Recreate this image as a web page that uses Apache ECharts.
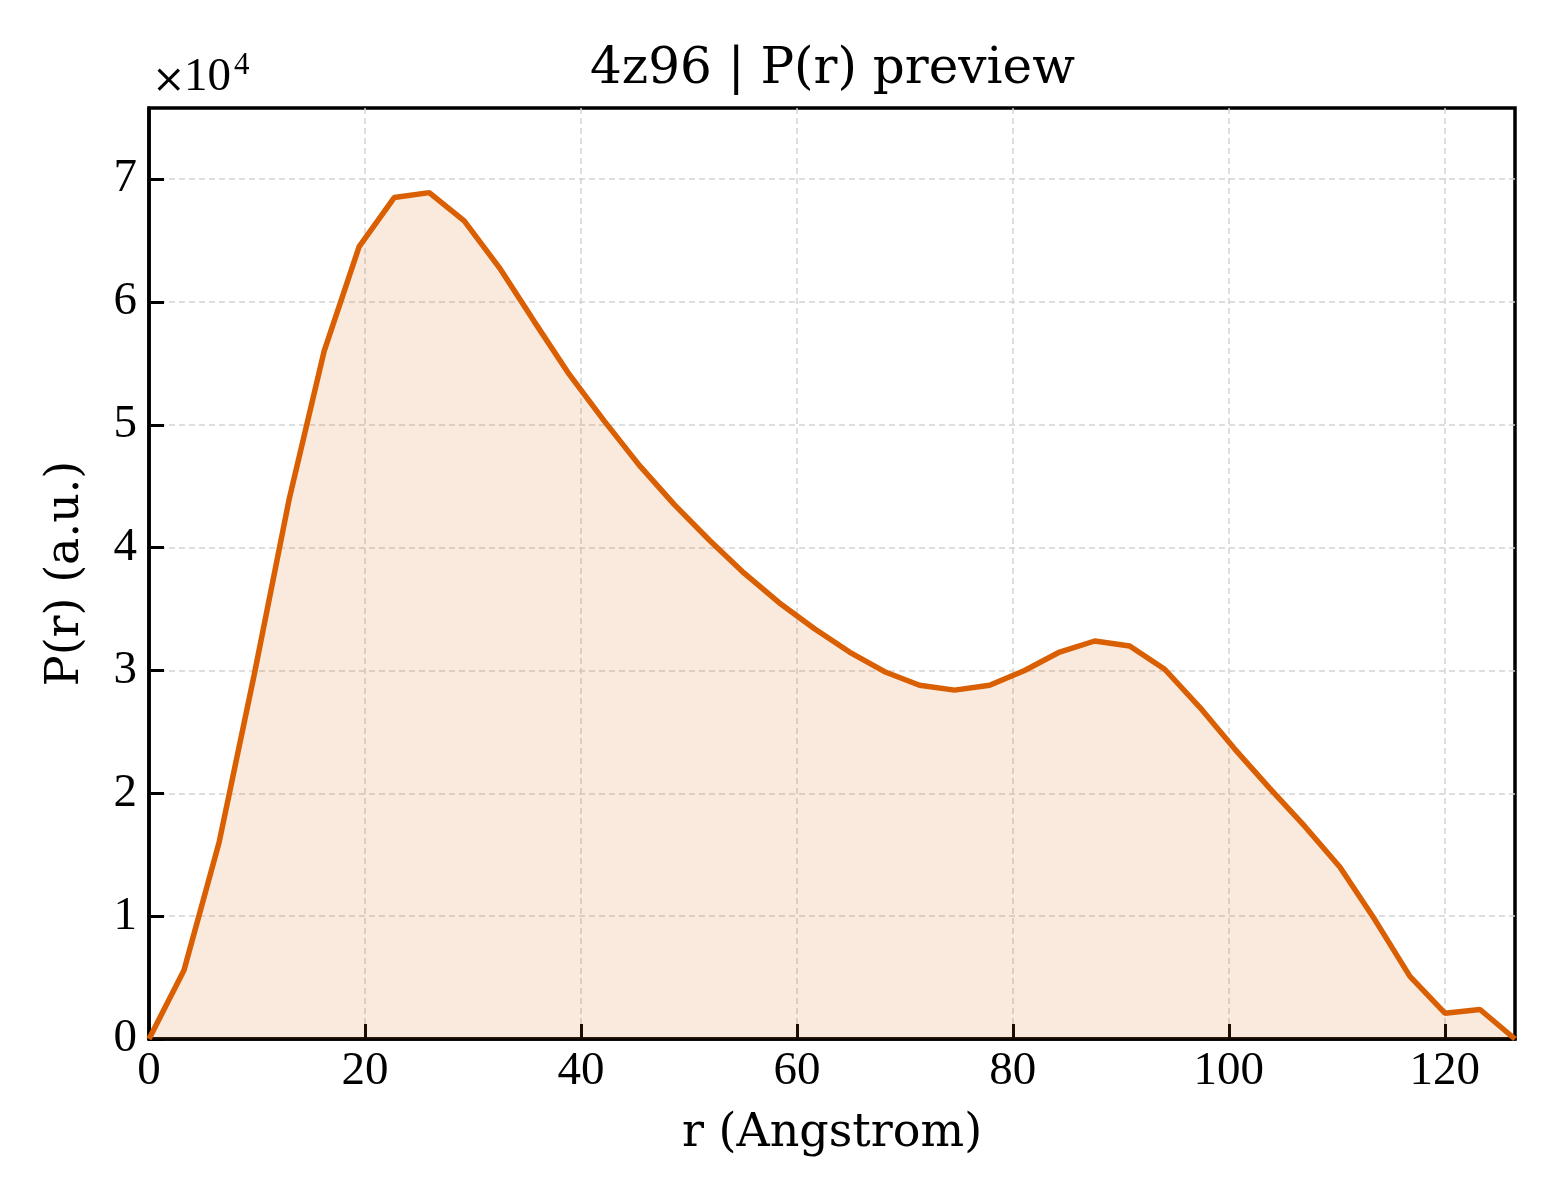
<!DOCTYPE html>
<html>
<head>
<meta charset="utf-8">
<title>4z96 | P(r) preview</title>
<script src="https://cdn.jsdelivr.net/npm/echarts@6/dist/echarts.min.js"></script>
<style>
  html, body { margin: 0; padding: 0; background: #fff; }
  #chart { width: 1560px; height: 1200px; }
</style>
</head>
<body>
<div id="chart"></div>
<script>
"use strict"

// r in Angstrom
const rValues = [
  0, 3.24, 6.49, 9.73, 12.97, 16.22, 19.46, 22.71, 25.95, 29.19,
  32.44, 35.68, 38.92, 42.17, 45.41, 48.65, 51.9, 55.14, 58.38, 61.63,
  64.87, 68.12, 71.36, 74.6, 77.85, 81.09, 84.33, 87.58, 90.82, 94.06,
  97.31, 100.55, 103.79, 107.04, 110.28, 113.53, 116.77, 120.01, 123.26, 126.5,
]

// P(r), arbitrary units
const prValues = [
  0, 5600, 16000, 29600, 43900, 56000, 64500, 68500, 68900, 66600,
  62800, 58400, 54100, 50300, 46700, 43500, 40600, 37900, 35500, 33400,
  31500, 29900, 28800, 28400, 28800, 30000, 31500, 32400, 32000, 30100,
  27000, 23600, 20400, 17300, 14000, 9700, 5100, 2100, 2400, 0,
]

const xTicks = [0, 20, 40, 60, 80, 100, 120]
const yTicks = [0, 1, 2, 3, 4, 5, 6, 7]
const yScale = 10000

const lineColor = "#d95f02"
const serif = "'DejaVu Serif', serif"
const tickFont = "'Liberation Serif', 'DejaVu Serif', serif"

const points = rValues.map((r, i) => [r, prValues[i]])

const gridLine = {
  show: true,
  showMinLine: false,
  showMaxLine: false,
  lineStyle: { color: "#d3d3d3", width: 1.5, type: [6, 4] },
}

const option = {
  animation: false,
  backgroundColor: "#fff",
  title: {
    text: "4z96 | P(r) preview",
    left: 590,
    top: 45,
    padding: 0,
    textStyle: { fontFamily: serif, fontSize: 50, fontWeight: "normal", color: "#000" },
  },
  // offset text of the y axis
  graphic: [
    {
      type: "text",
      left: 152,
      top: 62,
      style: { text: "×", font: "40px " + serif, fill: "#000" },
    },
    {
      type: "text",
      left: 184,
      top: 54,
      style: { text: "10", font: "47px " + tickFont, fill: "#000" },
    },
    {
      type: "text",
      left: 234,
      top: 50,
      style: { text: "4", font: "31px " + tickFont, fill: "#000" },
    },
  ],
  grid: {
    left: 149,
    right: 45,
    top: 108,
    bottom: 161,
    show: true,
    borderColor: "#000",
    borderWidth: 3.5,
    backgroundColor: "transparent",
  },
  xAxis: {
    type: "value",
    min: 0,
    max: 126.5,
    interval: 20,
    name: "r (Angstrom)",
    nameLocation: "middle",
    nameGap: 72,
    nameTextStyle: { fontFamily: serif, fontSize: 46, color: "#000" },
    axisLine: { show: true, onZero: false, lineStyle: { color: "#000", width: 3.5 } },
    axisTick: { show: true, inside: true, length: 15, lineStyle: { color: "#000", width: 3 } },
    axisLabel: {
      margin: 9,
      fontFamily: tickFont,
      fontSize: 47,
      color: "#000",
      showMaxLabel: false,
      formatter: (v) => (xTicks.includes(v) ? String(v) : ""),
    },
    splitLine: gridLine,
  },
  yAxis: {
    type: "value",
    min: 0,
    max: 75790,
    interval: yScale,
    name: "P(r) (a.u.)",
    nameLocation: "middle",
    nameGap: 60,
    nameTextStyle: { fontFamily: serif, fontSize: 46, color: "#000" },
    axisLine: { show: true, onZero: false, lineStyle: { color: "#000", width: 3.5 } },
    axisTick: { show: true, inside: true, length: 15, lineStyle: { color: "#000", width: 3 } },
    axisLabel: {
      margin: 12,
      fontFamily: tickFont,
      fontSize: 47,
      color: "#000",
      showMaxLabel: false,
      formatter: (v) => {
        const t = Math.round(v / yScale)
        return yTicks.includes(t) && Math.abs(v - t * yScale) < 1 ? String(t) : ""
      },
    },
    splitLine: gridLine,
  },
  series: [
    {
      type: "line",
      data: points,
      showSymbol: false,
      smooth: false,
      lineStyle: { color: lineColor, width: 5.5 },
      itemStyle: { color: lineColor },
      areaStyle: { color: lineColor, opacity: 0.13, origin: "start" },
      clip: false,
    },
  ],
}

const myChart = echarts.init(document.getElementById("chart"), null, { renderer: "canvas" })
myChart.setOption(option)
</script>
</body>
</html>
